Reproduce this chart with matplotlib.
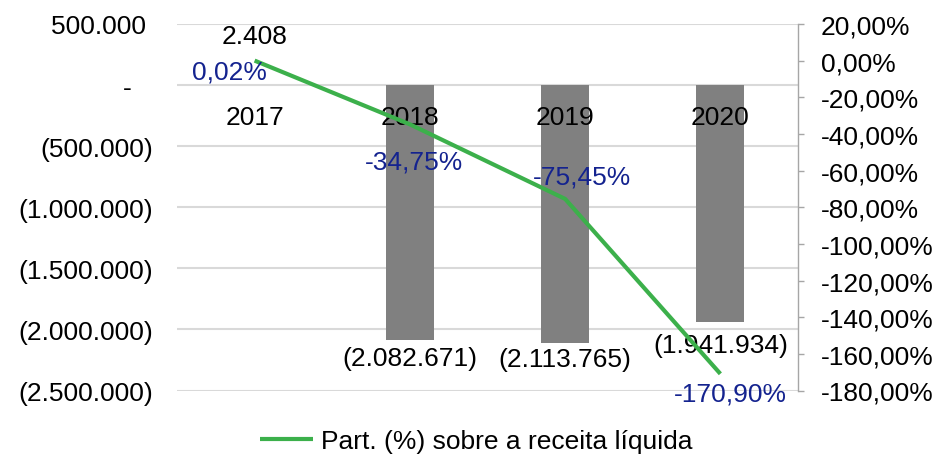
import matplotlib

matplotlib.use("Agg")
import matplotlib.pyplot as plt
from matplotlib.ticker import FuncFormatter, MultipleLocator

plt.rcParams["font.family"] = ["Liberation Sans", "DejaVu Sans"]

years = ["2017", "2018", "2019", "2020"]
resultado = [2408, -2082671, -2113765, -1941934]
participacao = [0.02, -34.75, -75.45, -170.90]
legend_label = "Part. (%) sobre a receita líquida"

BAR_COLOR = "#808080"
LINE_COLOR = "#3cb04b"
PCT_COLOR = "#14238f"
GRID_COLOR = "#d9d9d9"
FS = 19


def fmt_money(v):
    s = f"{abs(v):,.0f}".replace(",", ".")
    if v == 0:
        return "-   "
    if v < 0:
        return f"({s})"
    return s + " "


def fmt_pct(v, pos=None):
    return f"{v:.2f}%".replace(".", ",")


fig = plt.figure(figsize=(9.38, 4.56), dpi=100)
ax = fig.add_axes([177 / 938, 1 - 391.5 / 456, (798 - 177) / 938, (391.5 - 25) / 456])
x = list(range(len(years)))

ax.bar(x, resultado, width=0.31, color=BAR_COLOR, zorder=2)
ax.set_xlim(-0.5, 3.5)
ax.set_ylim(-2500000, 500000)
ax.yaxis.set_major_locator(MultipleLocator(500000))
ax.yaxis.set_major_formatter(FuncFormatter(lambda v, p: fmt_money(v)))
ax.grid(axis="y", color=GRID_COLOR, linewidth=1.5, zorder=0)
ax.set_axisbelow(True)
# category labels sit on top of the bars
ax.xaxis.set_zorder(3)
for side in ["left", "right", "top"]:
    ax.spines[side].set_visible(False)
ax.spines["bottom"].set_position(("data", 0))
ax.spines["bottom"].set_visible(False)
ax.set_xticks(x)
ax.set_xticklabels(years)
ax.tick_params(axis="x", length=0, pad=14, labelsize=FS)
ax.tick_params(axis="y", length=0, pad=17, labelsize=FS)

# bar value labels
label_offsets = [35, -5, -3, -8]
for xi, v, off in zip(x, resultado, label_offsets):
    if v >= 0:
        ax.annotate(fmt_money(v).strip(), (xi, v), xytext=(0, off), textcoords="offset points",
                    ha="center", va="center", fontsize=FS)
    else:
        ax.annotate(fmt_money(v), (xi, v), xytext=(0, off), textcoords="offset points",
                    ha="center", va="top", fontsize=FS)

ax2 = ax.twinx()
ax2.plot(x, participacao, color=LINE_COLOR, linewidth=3, label=legend_label,
         solid_capstyle="butt", zorder=3)
ax2.set_ylim(-180, 20)
ax2.yaxis.set_major_locator(MultipleLocator(20))
ax2.yaxis.set_major_formatter(FuncFormatter(fmt_pct))
for side in ["left", "top", "bottom"]:
    ax2.spines[side].set_visible(False)
ax2.spines["right"].set_color("#a6a6a6")
ax2.spines["right"].set_linewidth(1)
ax2.tick_params(axis="y", length=4.5, width=1, color="#a6a6a6", pad=12, labelsize=FS)

# percent labels (offsets in points)
pct_offsets = [(-18, -8), (3, -27), (12, 16), (7, -14)]
for xi, v, off in zip(x, participacao, pct_offsets):
    ax2.annotate(fmt_pct(v), (xi, v), xytext=off, textcoords="offset points",
                 ha="center", va="center", fontsize=FS, color=PCT_COLOR)

fig.legend(loc="center", bbox_to_anchor=(0.508, 0.03), frameon=False, fontsize=FS,
           handlelength=2.0, handletextpad=0.3)

fig.savefig("out.png", dpi=100)
